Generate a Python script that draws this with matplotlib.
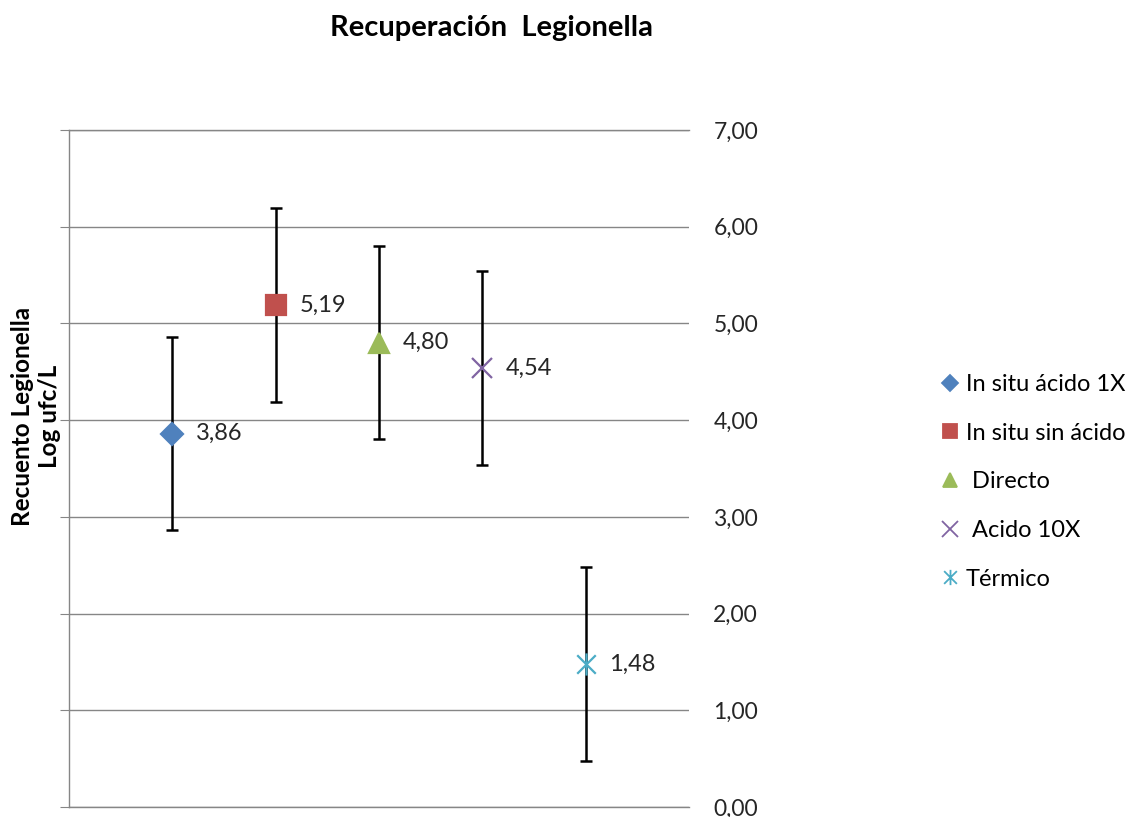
import matplotlib
matplotlib.use("Agg")
import matplotlib.pyplot as plt
from matplotlib.path import Path
from matplotlib.lines import Line2D
from matplotlib.ticker import FuncFormatter, MultipleLocator

# datos
categorias = ["In situ ácido 1X", "In situ sin ácido", " Directo", " Acido 10X", "Térmico"]
valores = [3.86, 5.19, 4.80, 4.54, 1.48]
errores = [1.0, 1.0, 1.0, 1.0, 1.0]
posiciones = [1, 2, 3, 4, 5]

colores = ["#4F81BD", "#C0504D", "#9BBB59", "#8064A2", "#4BACC6"]

# marcador estrella tipo Excel (x + barra vertical)
estrella = Path(
    [(-0.5, -0.5), (0.5, 0.5), (-0.5, 0.5), (0.5, -0.5), (0, -0.6), (0, 0.6)],
    [Path.MOVETO, Path.LINETO, Path.MOVETO, Path.LINETO, Path.MOVETO, Path.LINETO],
)
marcadores = ["D", "s", "^", "x", estrella]
tamanos = [11, 15, 15, 15, 16]
tamanos_ley = [8, 10, 10, 11, 11]

plt.rcParams["font.family"] = ["Lato", "DejaVu Sans"]
gris = "#868686"

fig = plt.figure(figsize=(11.33, 8.17), dpi=100)
ax = fig.add_axes([69 / 1133, 1 - 807 / 817, (689 - 69) / 1133, (807 - 130) / 817])

for i in range(len(valores)):
    ax.errorbar(posiciones[i], valores[i], yerr=errores[i], fmt="none",
                ecolor="black", elinewidth=1.8, capsize=4, capthick=1.8, zorder=3)
    ax.plot(posiciones[i], valores[i], linestyle="none", marker=marcadores[i],
            markersize=tamanos[i], color=colores[i], markeredgewidth=1.6, zorder=4)
    ax.annotate(f"{valores[i]:.2f}".replace(".", ","), (posiciones[i], valores[i]),
                xytext=(17, 0), textcoords="offset points", va="center", ha="left",
                fontsize=17, color="#262626")

ax.set_xlim(0, 6)
ax.set_ylim(0, 7)
ax.yaxis.set_major_locator(MultipleLocator(1))
ax.yaxis.set_major_formatter(FuncFormatter(lambda v, p: f"{v:.2f}".replace(".", ",")))
ax.set_xticks([])
ax.grid(axis="y", color=gris, linewidth=1)
ax.set_axisbelow(True)
for lado in ["top", "bottom", "left"]:
    ax.spines[lado].set_color(gris)
    ax.spines[lado].set_linewidth(1)
ax.spines["right"].set_visible(False)
ax.tick_params(axis="y", left=True, right=False, labelleft=False, labelright=True,
               length=6.5, color=gris, pad=11, labelsize=16.5, labelcolor="#262626")

fig.text(491 / 1133, 1 - 28 / 817, "Recuperación  Legionella", ha="center", va="center",
         fontsize=21, fontweight="bold")
fig.text(36 / 1133, 1 - 416 / 817, "Recuento Legionella\nLog ufc/L", rotation=90,
         ha="center", va="center", fontsize=17.5, fontweight="bold", multialignment="center",
         linespacing=1.2)

handles = []
for i in range(len(valores)):
    handles.append(Line2D([], [], linestyle="none", marker=marcadores[i],
                          markersize=tamanos_ley[i], color=colores[i], markeredgewidth=1.3))
fig.legend(handles, categorias, loc="upper left", bbox_to_anchor=(941 / 1133, 1 - 374 / 817),
           frameon=False, fontsize=17, handlelength=0.8, handletextpad=0.25,
           labelspacing=1.17, borderpad=0, borderaxespad=0)

fig.savefig("out.png", dpi=100)
